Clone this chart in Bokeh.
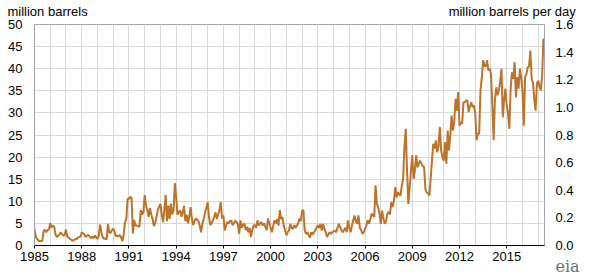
from bokeh.plotting import figure
from bokeh.models import (Range1d, LinearAxis, FixedTicker, Label, ColumnDataSource,
                          NumeralTickFormatter)
from bokeh.embed import file_html
from bokeh.resources import INLINE

# Monthly values, million barrels
y1985 = [3.8, 1.9, 1.5, 1.1, 1.0, 1.0, 1.1, 3.4, 3.5, 3.0, 3.5, 3.6]
y1986 = [5.1, 4.0, 4.5, 4.3, 2.5, 1.9, 2.2, 2.5, 3.0, 2.6, 2.2, 2.5]
y1987 = [3.6, 2.0, 1.8, 1.5, 1.3, 1.1, 1.2, 1.5, 1.4, 1.8, 1.9, 2.0]
y1988 = [3.0, 2.8, 2.5, 1.9, 2.2, 2.4, 2.0, 1.7, 2.0, 1.6, 2.3, 1.8]
y1989 = [1.5, 2.2, 4.7, 3.0, 1.8, 1.5, 1.6, 1.4, 4.9, 3.0, 2.8, 3.5]
y1990 = [3.8, 3.2, 2.0, 2.3, 2.0, 2.4, 1.9, 1.0, 2.5, 5.3, 6.0, 10.6]
y1991 = [10.5, 11.0, 10.8, 2.7, 5.8, 4.5, 4.5, 4.4, 4.2, 8.0, 7.0, 7.5]
y1992 = [11.4, 9.0, 8.0, 6.5, 8.5, 7.0, 6.0, 4.4, 5.0, 6.5, 8.0, 8.8]
y1993 = [9.4, 7.0, 5.3, 8.0, 11.4, 5.5, 9.0, 6.0, 9.5, 7.0, 8.0, 14.1]
y1994 = [11.0, 7.0, 7.5, 8.0, 6.5, 7.5, 9.0, 5.5, 7.0, 5.0, 6.5, 8.7]
y1995 = [6.1, 4.6, 5.5, 6.1, 5.8, 5.5, 4.5, 3.0, 5.0, 6.0, 7.5, 8.5]
y1996 = [9.8, 6.5, 4.6, 5.0, 5.7, 6.5, 7.5, 6.0, 7.0, 8.0, 9.8, 6.1]
y1997 = [6.8, 3.4, 4.5, 5.3, 5.0, 5.5, 5.7, 4.6, 5.0, 5.7, 5.3, 4.9]
y1998 = [2.6, 5.7, 4.0, 4.6, 5.0, 3.5, 4.2, 3.0, 4.0, 1.9, 3.5, 4.6]
y1999 = [4.6, 4.0, 5.7, 4.5, 5.0, 5.3, 4.5, 5.0, 4.2, 3.5, 6.1, 5.0]
y2000 = [4.0, 3.0, 4.5, 5.7, 5.0, 6.0, 4.5, 8.0, 6.0, 6.4, 4.5, 3.5]
y2001 = [2.3, 3.0, 3.4, 4.9, 4.0, 3.8, 4.6, 4.0, 4.5, 5.0, 6.1, 5.5]
y2002 = [7.9, 8.0, 3.4, 2.6, 3.0, 2.3, 1.8, 3.0, 2.5, 3.0, 3.4, 4.0]
y2003 = [4.6, 4.0, 4.9, 3.4, 4.9, 3.8, 3.0, 1.9, 2.5, 3.0, 2.6, 3.0]
y2004 = [3.2, 3.4, 3.0, 4.0, 4.9, 4.2, 3.4, 3.0, 3.5, 4.0, 3.0, 5.7]
y2005 = [4.0, 3.0, 4.5, 5.7, 6.8, 5.5, 4.9, 6.8, 4.0, 3.5, 2.6, 3.0]
y2006 = [3.8, 4.5, 5.7, 4.9, 6.0, 7.2, 6.8, 6.5, 13.6, 9.4, 8.7, 7.2]
y2007 = [4.9, 7.9, 6.1, 4.9, 5.5, 7.2, 7.6, 7.0, 9.8, 8.7, 10.0, 13.2]
y2008 = [10.9, 12.1, 11.5, 11.3, 13.5, 15.1, 22.2, 26.4, 17.0, 9.4, 13.2, 17.0]
y2009 = [20.4, 15.1, 17.0, 20.4, 17.7, 18.5, 19.2, 18.5, 18.0, 17.7, 12.8, 12.0]
y2010 = [11.8, 11.3, 15.0, 19.2, 23.0, 21.9, 23.8, 21.1, 22.5, 26.8, 21.5, 20.0]
y2011 = [19.2, 23.4, 18.5, 26.0, 21.5, 25.0, 29.4, 26.0, 28.0, 33.2, 30.5, 34.7]
y2012 = [27.1, 28.0, 27.5, 32.4, 32.4, 32.8, 32.8, 30.2, 31.5, 32.4, 31.3, 31.7]
y2013 = [30.0, 23.8, 25.3, 25.3, 35.1, 38.0, 41.9, 40.7, 40.5, 41.9, 39.6, 40.0]
y2014 = [38.8, 32.0, 23.8, 32.8, 35.8, 34.0, 35.1, 37.0, 40.0, 29.0, 33.0, 35.5]
y2015 = [31.7, 30.0, 26.4, 35.5, 39.2, 37.7, 41.5, 33.5, 38.1, 35.5, 40.0, 38.0]
y2016 = [35.1, 27.1, 38.1, 38.8, 40.3, 40.5, 44.1, 37.7, 36.9, 33.0, 30.5, 36.6]
y2017 = [37.3, 36.0, 35.1, 38.5, 46.8]

first_year = 1985
yearly = [y1985, y1986, y1987, y1988, y1989, y1990, y1991, y1992, y1993, y1994,
          y1995, y1996, y1997, y1998, y1999, y2000, y2001, y2002, y2003, y2004,
          y2005, y2006, y2007, y2008, y2009, y2010, y2011, y2012, y2013, y2014,
          y2015, y2016, y2017]

x_labels = list(range(1985, 2016, 3))
year_lines = list(range(1985, 2018))
left_ticks = list(range(0, 51, 5))
right_ticks = [0.0, 0.2, 0.4, 0.6, 0.8, 1.0, 1.2, 1.4, 1.6]
unit_left = "million barrels"
unit_right = "million barrels per day"

xs, ys = [], []
for i, vals in enumerate(yearly):
    for m, v in enumerate(vals):
        xs.append(first_year + i + m / 12.0)
        ys.append(v)
src = ColumnDataSource(dict(x=xs, y=ys))

FONT = "Liberation Sans"
p = figure(width=603, height=276, output_backend="svg", toolbar_location=None,
           x_range=Range1d(1985, 2017.4), y_range=Range1d(0, 50),
           min_border_left=34, min_border_right=59, min_border_top=24,
           min_border_bottom=31, x_axis_location="below")
p.extra_y_ranges = {"mbd": Range1d(0, 1.6)}

p.outline_line_color = "#a6a6a6"
p.background_fill_color = "white"
p.border_fill_color = "white"

# grids
p.xgrid.ticker = FixedTicker(ticks=x_labels, minor_ticks=year_lines)
p.xgrid.grid_line_color = "#d9d9d9"
p.xgrid.minor_grid_line_color = "#d9d9d9"
p.ygrid.ticker = FixedTicker(ticks=left_ticks)
p.ygrid.grid_line_color = "#d9d9d9"

# bottom axis
xa = p.xaxis[0]
xa.ticker = FixedTicker(ticks=x_labels)
xa.axis_line_color = "black"
xa.major_tick_line_color = "black"
xa.major_tick_out = 3
xa.major_tick_in = 0
xa.minor_tick_line_color = None
xa.major_label_standoff = 3
xa.major_label_text_font = FONT
xa.major_label_text_font_size = "13px"
xa.major_label_text_color = "#000000"

# left axis
ya = p.yaxis[0]
ya.ticker = FixedTicker(ticks=left_ticks)
ya.axis_line_color = "#a6a6a6"
ya.major_tick_line_color = None
ya.minor_tick_line_color = None
ya.major_tick_out = 0
ya.major_tick_in = 0
ya.major_label_standoff = 12
ya.major_label_text_font = FONT
ya.major_label_text_font_size = "13px"
ya.major_label_text_color = "#000000"

# right axis
ra = LinearAxis(y_range_name="mbd", ticker=FixedTicker(ticks=right_ticks),
                formatter=NumeralTickFormatter(format="0.0"))
ra.axis_line_color = None
ra.major_tick_line_color = None
ra.minor_tick_line_color = None
ra.major_tick_out = 0
ra.major_tick_in = 0
ra.major_label_standoff = 11
ra.major_label_text_font = FONT
ra.major_label_text_font_size = "13px"
ra.major_label_text_color = "#000000"
p.add_layout(ra, "right")

# unit captions above the frame, drawn as the labels of a bare top axis
cap_left_x = 1985.83
cap_right_x = 2015.35
ta = LinearAxis(ticker=FixedTicker(ticks=[cap_left_x, cap_right_x]),
                major_label_overrides={cap_left_x: unit_left, cap_right_x: unit_right})
ta.axis_line_color = None
ta.major_tick_line_color = None
ta.minor_tick_line_color = None
ta.major_tick_out = 0
ta.major_tick_in = 0
ta.major_label_standoff = 6
ta.major_label_text_font = FONT
ta.major_label_text_font_size = "13px"
ta.major_label_text_color = "#000000"
p.add_layout(ta, "above")

p.line("x", "y", source=src, line_color="#bd732a", line_width=2)

# eia logo text, placed in the right side panel (below the right axis labels)
p.add_layout(Label(x=-9, y=-21, x_units="screen", y_units="screen", text="eia",
                   text_font="DejaVu Serif", text_font_size="16px",
                   text_color="#6f6f6f", text_align="center",
                   text_baseline="alphabetic"), "right")

open("out.html", "w").write(file_html(p, INLINE))
